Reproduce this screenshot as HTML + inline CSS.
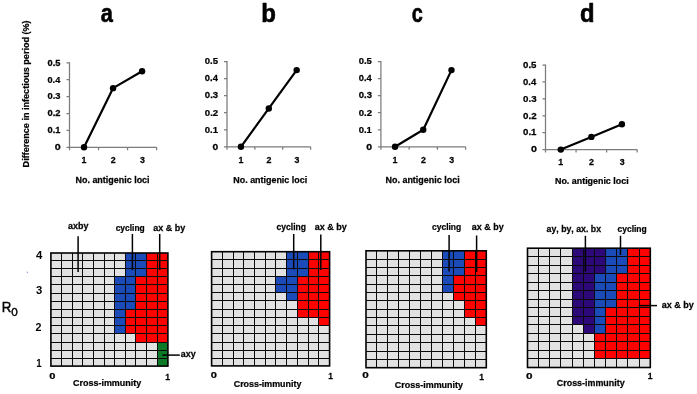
<!DOCTYPE html>
<html><head><meta charset="utf-8"><title>Figure</title>
<style>
html,body{margin:0;padding:0;background:#fff;}
body{width:697px;height:394px;overflow:hidden;}
svg{display:block;font-family:"Liberation Sans",sans-serif;font-kerning:none;}
</style></head><body>
<svg width="697" height="394" viewBox="0 0 697 394">
<rect width="697" height="394" fill="#fff"/>
<g opacity="0.999">
<text transform="translate(100.66 21.50) scale(0.7770 0.9226)" font-size="28" font-weight="700" fill="#000" stroke="#000" stroke-width="0.7" stroke-linejoin="round">a</text>
<text transform="translate(261.22 21.50) scale(0.8576 0.9168)" font-size="28" font-weight="700" fill="#000" stroke="#000" stroke-width="0.7" stroke-linejoin="round">b</text>
<text transform="translate(411.82 21.50) scale(0.7102 0.9027)" font-size="28" font-weight="700" fill="#000" stroke="#000" stroke-width="0.7" stroke-linejoin="round">c</text>
<text transform="translate(580.02 21.50) scale(0.8505 0.9168)" font-size="28" font-weight="700" fill="#000" stroke="#000" stroke-width="0.7" stroke-linejoin="round">d</text>
<path d="M69.50 62.30V150.30M66.50 147.30H156.60" stroke="#7c7c7c" stroke-width="1.25" fill="none"/>
<text transform="translate(54.78 150.10) scale(1.1656 1.0000)" font-size="9.2" font-weight="700" fill="#000" stroke="#000" stroke-width="0.25">0</text>
<text transform="translate(47.53 133.20) scale(1.0107 1.0000)" font-size="9.2" font-weight="700" fill="#000" stroke="#000" stroke-width="0.25">0.1</text>
<text transform="translate(47.53 116.30) scale(1.0202 1.0000)" font-size="9.2" font-weight="700" fill="#000" stroke="#000" stroke-width="0.25">0.2</text>
<text transform="translate(47.53 99.40) scale(1.0171 1.0000)" font-size="9.2" font-weight="700" fill="#000" stroke="#000" stroke-width="0.25">0.3</text>
<text transform="translate(47.54 82.50) scale(0.9939 1.0000)" font-size="9.2" font-weight="700" fill="#000" stroke="#000" stroke-width="0.25">0.4</text>
<text transform="translate(47.53 65.60) scale(1.0107 1.0000)" font-size="9.2" font-weight="700" fill="#000" stroke="#000" stroke-width="0.25">0.5</text>
<path d="M66.50 130.40H69.50M66.50 113.50H69.50M66.50 96.60H69.50M66.50 79.70H69.50M66.50 62.80H69.50M98.53 147.30V150.30M127.57 147.30V150.30M156.60 147.30V150.30" stroke="#7c7c7c" stroke-width="1.25" fill="none"/>
<polyline points="84.02,147.30 113.05,88.15 142.08,71.25" stroke="#000" stroke-width="2.2" fill="none" stroke-linejoin="round"/>
<circle cx="84.02" cy="147.30" r="3.2" fill="#000"/>
<circle cx="113.05" cy="88.15" r="3.2" fill="#000"/>
<circle cx="142.08" cy="71.25" r="3.2" fill="#000"/>
<text transform="translate(81.60 163.20) scale(0.9500 1.0000)" font-size="9.3" font-weight="700" fill="#000" stroke="#000" stroke-width="0.25">1</text>
<text transform="translate(110.82 163.20) scale(0.9500 1.0000)" font-size="9.3" font-weight="700" fill="#000" stroke="#000" stroke-width="0.25">2</text>
<text transform="translate(139.88 163.20) scale(0.9500 1.0000)" font-size="9.3" font-weight="700" fill="#000" stroke="#000" stroke-width="0.25">3</text>
<text transform="translate(75.50 183.20) scale(0.9949 1.0000)" font-size="9.0" font-weight="700" fill="#000" stroke="#000" stroke-width="0.25">No. antigenic loci</text>
<path d="M227.00 61.10V149.80M224.00 146.80H310.60" stroke="#7c7c7c" stroke-width="1.25" fill="none"/>
<text transform="translate(212.39 149.60) scale(1.1199 1.0000)" font-size="9.2" font-weight="700" fill="#000" stroke="#000" stroke-width="0.25">0</text>
<text transform="translate(204.82 132.56) scale(1.0354 1.0000)" font-size="9.2" font-weight="700" fill="#000" stroke="#000" stroke-width="0.25">0.1</text>
<text transform="translate(204.82 115.52) scale(1.0450 1.0000)" font-size="9.2" font-weight="700" fill="#000" stroke="#000" stroke-width="0.25">0.2</text>
<text transform="translate(204.82 98.48) scale(1.0419 1.0000)" font-size="9.2" font-weight="700" fill="#000" stroke="#000" stroke-width="0.25">0.3</text>
<text transform="translate(204.83 81.44) scale(1.0181 1.0000)" font-size="9.2" font-weight="700" fill="#000" stroke="#000" stroke-width="0.25">0.4</text>
<text transform="translate(204.82 64.40) scale(1.0354 1.0000)" font-size="9.2" font-weight="700" fill="#000" stroke="#000" stroke-width="0.25">0.5</text>
<path d="M224.00 129.76H227.00M224.00 112.72H227.00M224.00 95.68H227.00M224.00 78.64H227.00M224.00 61.60H227.00M254.87 146.80V149.80M282.73 146.80V149.80M310.60 146.80V149.80" stroke="#7c7c7c" stroke-width="1.25" fill="none"/>
<polyline points="240.93,146.80 268.80,108.46 296.67,70.12" stroke="#000" stroke-width="2.2" fill="none" stroke-linejoin="round"/>
<circle cx="240.93" cy="146.80" r="3.2" fill="#000"/>
<circle cx="268.80" cy="108.46" r="3.2" fill="#000"/>
<circle cx="296.67" cy="70.12" r="3.2" fill="#000"/>
<text transform="translate(238.52 163.20) scale(0.9500 1.0000)" font-size="9.3" font-weight="700" fill="#000" stroke="#000" stroke-width="0.25">1</text>
<text transform="translate(266.57 163.20) scale(0.9500 1.0000)" font-size="9.3" font-weight="700" fill="#000" stroke="#000" stroke-width="0.25">2</text>
<text transform="translate(294.47 163.20) scale(0.9500 1.0000)" font-size="9.3" font-weight="700" fill="#000" stroke="#000" stroke-width="0.25">3</text>
<text transform="translate(233.30 183.20) scale(0.9922 1.0000)" font-size="9.0" font-weight="700" fill="#000" stroke="#000" stroke-width="0.25">No. antigenic loci</text>
<path d="M380.90 61.10V149.80M377.90 146.80H465.60" stroke="#7c7c7c" stroke-width="1.25" fill="none"/>
<text transform="translate(366.18 149.60) scale(1.1428 1.0000)" font-size="9.2" font-weight="700" fill="#000" stroke="#000" stroke-width="0.25">0</text>
<text transform="translate(358.73 132.56) scale(1.0272 1.0000)" font-size="9.2" font-weight="700" fill="#000" stroke="#000" stroke-width="0.25">0.1</text>
<text transform="translate(358.72 115.52) scale(1.0367 1.0000)" font-size="9.2" font-weight="700" fill="#000" stroke="#000" stroke-width="0.25">0.2</text>
<text transform="translate(358.72 98.48) scale(1.0337 1.0000)" font-size="9.2" font-weight="700" fill="#000" stroke="#000" stroke-width="0.25">0.3</text>
<text transform="translate(358.73 81.44) scale(1.0100 1.0000)" font-size="9.2" font-weight="700" fill="#000" stroke="#000" stroke-width="0.25">0.4</text>
<text transform="translate(358.73 64.40) scale(1.0272 1.0000)" font-size="9.2" font-weight="700" fill="#000" stroke="#000" stroke-width="0.25">0.5</text>
<path d="M377.90 129.76H380.90M377.90 112.72H380.90M377.90 95.68H380.90M377.90 78.64H380.90M377.90 61.60H380.90M409.13 146.80V149.80M437.37 146.80V149.80M465.60 146.80V149.80" stroke="#7c7c7c" stroke-width="1.25" fill="none"/>
<polyline points="395.02,146.80 423.25,129.76 451.48,70.12" stroke="#000" stroke-width="2.2" fill="none" stroke-linejoin="round"/>
<circle cx="395.02" cy="146.80" r="3.2" fill="#000"/>
<circle cx="423.25" cy="129.76" r="3.2" fill="#000"/>
<circle cx="451.48" cy="70.12" r="3.2" fill="#000"/>
<text transform="translate(392.60 163.20) scale(0.9500 1.0000)" font-size="9.3" font-weight="700" fill="#000" stroke="#000" stroke-width="0.25">1</text>
<text transform="translate(421.02 163.20) scale(0.9500 1.0000)" font-size="9.3" font-weight="700" fill="#000" stroke="#000" stroke-width="0.25">2</text>
<text transform="translate(449.28 163.20) scale(0.9500 1.0000)" font-size="9.3" font-weight="700" fill="#000" stroke="#000" stroke-width="0.25">3</text>
<text transform="translate(385.50 183.20) scale(0.9963 1.0000)" font-size="9.0" font-weight="700" fill="#000" stroke="#000" stroke-width="0.25">No. antigenic loci</text>
<path d="M545.50 64.50V152.60M542.50 149.60H637.20" stroke="#7c7c7c" stroke-width="1.25" fill="none"/>
<text transform="translate(530.88 152.40) scale(1.1656 1.0000)" font-size="9.2" font-weight="700" fill="#000" stroke="#000" stroke-width="0.25">0</text>
<text transform="translate(523.02 135.48) scale(1.0518 1.0000)" font-size="9.2" font-weight="700" fill="#000" stroke="#000" stroke-width="0.25">0.1</text>
<text transform="translate(523.01 118.56) scale(1.0616 1.0000)" font-size="9.2" font-weight="700" fill="#000" stroke="#000" stroke-width="0.25">0.2</text>
<text transform="translate(523.01 101.64) scale(1.0585 1.0000)" font-size="9.2" font-weight="700" fill="#000" stroke="#000" stroke-width="0.25">0.3</text>
<text transform="translate(523.02 84.72) scale(1.0343 1.0000)" font-size="9.2" font-weight="700" fill="#000" stroke="#000" stroke-width="0.25">0.4</text>
<text transform="translate(523.02 67.80) scale(1.0518 1.0000)" font-size="9.2" font-weight="700" fill="#000" stroke="#000" stroke-width="0.25">0.5</text>
<path d="M542.50 132.68H545.50M542.50 115.76H545.50M542.50 98.84H545.50M542.50 81.92H545.50M542.50 65.00H545.50M576.07 149.60V152.60M606.63 149.60V152.60M637.20 149.60V152.60" stroke="#7c7c7c" stroke-width="1.25" fill="none"/>
<polyline points="560.78,149.60 591.35,136.91 621.92,124.22" stroke="#000" stroke-width="2.2" fill="none" stroke-linejoin="round"/>
<circle cx="560.78" cy="149.60" r="3.2" fill="#000"/>
<circle cx="591.35" cy="136.91" r="3.2" fill="#000"/>
<circle cx="621.92" cy="124.22" r="3.2" fill="#000"/>
<text transform="translate(558.37 165.30) scale(0.9500 1.0000)" font-size="9.3" font-weight="700" fill="#000" stroke="#000" stroke-width="0.25">1</text>
<text transform="translate(589.12 165.30) scale(0.9500 1.0000)" font-size="9.3" font-weight="700" fill="#000" stroke="#000" stroke-width="0.25">2</text>
<text transform="translate(619.72 165.30) scale(0.9500 1.0000)" font-size="9.3" font-weight="700" fill="#000" stroke="#000" stroke-width="0.25">3</text>
<text transform="translate(555.00 184.30) scale(0.9895 1.0000)" font-size="9.0" font-weight="700" fill="#000" stroke="#000" stroke-width="0.25">No. antigenic loci</text>
<text transform="translate(28.7 166.8) rotate(-90) translate(-0.61 0.00) scale(0.9249 1.0000)" font-size="9.8" font-weight="700" fill="#000" stroke="#000" stroke-width="0.25">Difference in infectious period (%)</text>
<rect x="50.90" y="253.00" width="117.00" height="113.10" fill="#e2e2e2"/>
<rect x="125.50" y="253.00" width="21.00" height="7.50" fill="#1b4bb8"/>
<rect x="146.50" y="253.00" width="21.40" height="7.50" fill="#fe0000"/>
<rect x="125.50" y="260.50" width="21.00" height="8.00" fill="#1b4bb8"/>
<rect x="146.50" y="260.50" width="21.40" height="8.00" fill="#fe0000"/>
<rect x="125.50" y="268.50" width="21.00" height="8.00" fill="#1b4bb8"/>
<rect x="146.50" y="268.50" width="21.40" height="8.00" fill="#fe0000"/>
<rect x="114.50" y="276.50" width="21.00" height="8.00" fill="#1b4bb8"/>
<rect x="135.50" y="276.50" width="32.40" height="8.00" fill="#fe0000"/>
<rect x="114.50" y="284.50" width="21.00" height="9.00" fill="#1b4bb8"/>
<rect x="135.50" y="284.50" width="32.40" height="9.00" fill="#fe0000"/>
<rect x="114.50" y="293.50" width="21.00" height="8.00" fill="#1b4bb8"/>
<rect x="135.50" y="293.50" width="32.40" height="8.00" fill="#fe0000"/>
<rect x="114.50" y="301.50" width="21.00" height="8.00" fill="#1b4bb8"/>
<rect x="135.50" y="301.50" width="32.40" height="8.00" fill="#fe0000"/>
<rect x="114.50" y="309.50" width="11.00" height="8.00" fill="#1b4bb8"/>
<rect x="125.50" y="309.50" width="42.40" height="8.00" fill="#fe0000"/>
<rect x="114.50" y="317.50" width="11.00" height="8.00" fill="#1b4bb8"/>
<rect x="125.50" y="317.50" width="42.40" height="8.00" fill="#fe0000"/>
<rect x="114.50" y="325.50" width="11.00" height="8.00" fill="#1b4bb8"/>
<rect x="125.50" y="325.50" width="42.40" height="8.00" fill="#fe0000"/>
<rect x="135.50" y="333.50" width="32.40" height="9.00" fill="#fe0000"/>
<rect x="157.50" y="342.50" width="10.40" height="8.00" fill="#0c7a27"/>
<rect x="157.50" y="350.50" width="10.40" height="8.00" fill="#0c7a27"/>
<rect x="157.50" y="358.50" width="10.40" height="7.60" fill="#0c7a27"/>
<path d="M61.5 253.00V366.10M72.5 253.00V366.10M82.5 253.00V366.10M93.5 253.00V366.10M104.5 253.00V366.10M114.5 253.00V366.10M125.5 253.00V366.10M135.5 253.00V366.10M146.5 253.00V366.10M157.5 253.00V366.10M50.90 260.5H167.90M50.90 268.5H167.90M50.90 276.5H167.90M50.90 284.5H167.90M50.90 293.5H167.90M50.90 301.5H167.90M50.90 309.5H167.90M50.90 317.5H167.90M50.90 325.5H167.90M50.90 333.5H167.90M50.90 342.5H167.90M50.90 350.5H167.90M50.90 358.5H167.90" stroke="#0a0a0a" stroke-width="1.0" fill="none"/>
<rect x="50.90" y="253.00" width="117.00" height="113.10" fill="none" stroke="#000" stroke-width="1.6"/>
<rect x="211.60" y="251.70" width="118.00" height="114.20" fill="#e2e2e2"/>
<rect x="286.50" y="251.70" width="22.00" height="7.80" fill="#1b4bb8"/>
<rect x="308.50" y="251.70" width="21.10" height="7.80" fill="#fe0000"/>
<rect x="286.50" y="259.50" width="22.00" height="9.00" fill="#1b4bb8"/>
<rect x="308.50" y="259.50" width="21.10" height="9.00" fill="#fe0000"/>
<rect x="286.50" y="268.50" width="22.00" height="8.00" fill="#1b4bb8"/>
<rect x="308.50" y="268.50" width="21.10" height="8.00" fill="#fe0000"/>
<rect x="275.50" y="276.50" width="22.00" height="8.00" fill="#1b4bb8"/>
<rect x="297.50" y="276.50" width="32.10" height="8.00" fill="#fe0000"/>
<rect x="275.50" y="284.50" width="22.00" height="8.00" fill="#1b4bb8"/>
<rect x="297.50" y="284.50" width="32.10" height="8.00" fill="#fe0000"/>
<rect x="286.50" y="292.50" width="11.00" height="8.00" fill="#1b4bb8"/>
<rect x="297.50" y="292.50" width="32.10" height="8.00" fill="#fe0000"/>
<rect x="297.50" y="300.50" width="32.10" height="9.00" fill="#fe0000"/>
<rect x="297.50" y="309.50" width="32.10" height="8.00" fill="#fe0000"/>
<rect x="318.50" y="317.50" width="11.10" height="8.00" fill="#fe0000"/>
<path d="M222.5 251.70V365.90M233.5 251.70V365.90M243.5 251.70V365.90M254.5 251.70V365.90M265.5 251.70V365.90M275.5 251.70V365.90M286.5 251.70V365.90M297.5 251.70V365.90M308.5 251.70V365.90M318.5 251.70V365.90M211.60 259.5H329.60M211.60 268.5H329.60M211.60 276.5H329.60M211.60 284.5H329.60M211.60 292.5H329.60M211.60 300.5H329.60M211.60 309.5H329.60M211.60 317.5H329.60M211.60 325.5H329.60M211.60 333.5H329.60M211.60 342.5H329.60M211.60 350.5H329.60M211.60 358.5H329.60" stroke="#0a0a0a" stroke-width="1.0" fill="none"/>
<rect x="211.60" y="251.70" width="118.00" height="114.20" fill="none" stroke="#000" stroke-width="1.6"/>
<rect x="366.00" y="250.80" width="120.30" height="116.90" fill="#e2e2e2"/>
<rect x="442.50" y="250.80" width="22.00" height="8.70" fill="#1b4bb8"/>
<rect x="464.50" y="250.80" width="21.80" height="8.70" fill="#fe0000"/>
<rect x="442.50" y="259.50" width="22.00" height="8.00" fill="#1b4bb8"/>
<rect x="464.50" y="259.50" width="21.80" height="8.00" fill="#fe0000"/>
<rect x="442.50" y="267.50" width="22.00" height="8.00" fill="#1b4bb8"/>
<rect x="464.50" y="267.50" width="21.80" height="8.00" fill="#fe0000"/>
<rect x="442.50" y="275.50" width="11.00" height="9.00" fill="#1b4bb8"/>
<rect x="453.50" y="275.50" width="32.80" height="9.00" fill="#fe0000"/>
<rect x="442.50" y="284.50" width="11.00" height="8.00" fill="#1b4bb8"/>
<rect x="453.50" y="284.50" width="32.80" height="8.00" fill="#fe0000"/>
<rect x="453.50" y="292.50" width="32.80" height="8.00" fill="#fe0000"/>
<rect x="464.50" y="300.50" width="21.80" height="9.00" fill="#fe0000"/>
<rect x="464.50" y="309.50" width="21.80" height="8.00" fill="#fe0000"/>
<rect x="475.50" y="317.50" width="10.80" height="8.00" fill="#fe0000"/>
<path d="M376.5 250.80V367.70M387.5 250.80V367.70M398.5 250.80V367.70M409.5 250.80V367.70M420.5 250.80V367.70M431.5 250.80V367.70M442.5 250.80V367.70M453.5 250.80V367.70M464.5 250.80V367.70M475.5 250.80V367.70M366.00 259.5H486.30M366.00 267.5H486.30M366.00 275.5H486.30M366.00 284.5H486.30M366.00 292.5H486.30M366.00 300.5H486.30M366.00 309.5H486.30M366.00 317.5H486.30M366.00 325.5H486.30M366.00 334.5H486.30M366.00 342.5H486.30M366.00 351.5H486.30M366.00 359.5H486.30" stroke="#0a0a0a" stroke-width="1.0" fill="none"/>
<rect x="366.00" y="250.80" width="120.30" height="116.90" fill="none" stroke="#000" stroke-width="1.6"/>
<rect x="527.50" y="248.20" width="122.80" height="119.30" fill="#e2e2e2"/>
<rect x="572.50" y="248.20" width="33.00" height="8.30" fill="#2d0878"/>
<rect x="605.50" y="248.20" width="22.00" height="8.30" fill="#1b4bb8"/>
<rect x="627.50" y="248.20" width="22.80" height="8.30" fill="#fe0000"/>
<rect x="572.50" y="256.50" width="33.00" height="9.00" fill="#2d0878"/>
<rect x="605.50" y="256.50" width="22.00" height="9.00" fill="#1b4bb8"/>
<rect x="627.50" y="256.50" width="22.80" height="9.00" fill="#fe0000"/>
<rect x="572.50" y="265.50" width="33.00" height="8.00" fill="#2d0878"/>
<rect x="605.50" y="265.50" width="22.00" height="8.00" fill="#1b4bb8"/>
<rect x="627.50" y="265.50" width="22.80" height="8.00" fill="#fe0000"/>
<rect x="572.50" y="273.50" width="22.00" height="9.00" fill="#2d0878"/>
<rect x="594.50" y="273.50" width="22.00" height="9.00" fill="#1b4bb8"/>
<rect x="616.50" y="273.50" width="33.80" height="9.00" fill="#fe0000"/>
<rect x="572.50" y="282.50" width="22.00" height="8.00" fill="#2d0878"/>
<rect x="594.50" y="282.50" width="22.00" height="8.00" fill="#1b4bb8"/>
<rect x="616.50" y="282.50" width="33.80" height="8.00" fill="#fe0000"/>
<rect x="572.50" y="290.50" width="22.00" height="9.00" fill="#2d0878"/>
<rect x="594.50" y="290.50" width="22.00" height="9.00" fill="#1b4bb8"/>
<rect x="616.50" y="290.50" width="33.80" height="9.00" fill="#fe0000"/>
<rect x="572.50" y="299.50" width="22.00" height="8.00" fill="#2d0878"/>
<rect x="594.50" y="299.50" width="22.00" height="8.00" fill="#1b4bb8"/>
<rect x="616.50" y="299.50" width="33.80" height="8.00" fill="#fe0000"/>
<rect x="572.50" y="307.50" width="22.00" height="9.00" fill="#2d0878"/>
<rect x="594.50" y="307.50" width="11.00" height="9.00" fill="#1b4bb8"/>
<rect x="605.50" y="307.50" width="44.80" height="9.00" fill="#fe0000"/>
<rect x="572.50" y="316.50" width="22.00" height="8.00" fill="#2d0878"/>
<rect x="594.50" y="316.50" width="11.00" height="8.00" fill="#1b4bb8"/>
<rect x="605.50" y="316.50" width="44.80" height="8.00" fill="#fe0000"/>
<rect x="583.50" y="324.50" width="11.00" height="9.00" fill="#2d0878"/>
<rect x="594.50" y="324.50" width="11.00" height="9.00" fill="#1b4bb8"/>
<rect x="605.50" y="324.50" width="44.80" height="9.00" fill="#fe0000"/>
<rect x="594.50" y="333.50" width="55.80" height="8.00" fill="#fe0000"/>
<rect x="594.50" y="341.50" width="55.80" height="9.00" fill="#fe0000"/>
<rect x="594.50" y="350.50" width="55.80" height="8.00" fill="#fe0000"/>
<path d="M538.5 248.20V367.50M549.5 248.20V367.50M560.5 248.20V367.50M572.5 248.20V367.50M583.5 248.20V367.50M594.5 248.20V367.50M605.5 248.20V367.50M616.5 248.20V367.50M627.5 248.20V367.50M639.5 248.20V367.50M527.50 256.5H650.30M527.50 265.5H650.30M527.50 273.5H650.30M527.50 282.5H650.30M527.50 290.5H650.30M527.50 299.5H650.30M527.50 307.5H650.30M527.50 316.5H650.30M527.50 324.5H650.30M527.50 333.5H650.30M527.50 341.5H650.30M527.50 350.5H650.30M527.50 358.5H650.30" stroke="#0a0a0a" stroke-width="1.0" fill="none"/>
<rect x="527.50" y="248.20" width="122.80" height="119.30" fill="none" stroke="#000" stroke-width="1.6"/>
<path d="M78.10 236.20V272.00" stroke="#000" stroke-width="1.5"/>
<path d="M132.40 234.00V270.00" stroke="#000" stroke-width="1.5"/>
<path d="M159.70 234.00V270.00" stroke="#000" stroke-width="1.5"/>
<path d="M162.40 355.10H179.80" stroke="#000" stroke-width="1.5"/>
<text transform="translate(68.04 229.00) scale(0.9426 1.0000)" font-size="9.5" font-weight="700" fill="#000" stroke="#000" stroke-width="0.25">axby</text>
<text transform="translate(115.67 230.60) scale(0.8888 1.0000)" font-size="9.5" font-weight="700" fill="#000" stroke="#000" stroke-width="0.25">cycling</text>
<text transform="translate(153.14 230.60) scale(0.9503 1.0000)" font-size="9.5" font-weight="700" fill="#000" stroke="#000" stroke-width="0.25">ax &amp; by</text>
<text transform="translate(180.84 356.50) scale(0.9407 1.0000)" font-size="9.5" font-weight="700" fill="#000" stroke="#000" stroke-width="0.25">axy</text>
<path d="M293.70 234.00V269.50" stroke="#000" stroke-width="1.5"/>
<path d="M320.80 234.50V270.00" stroke="#000" stroke-width="1.5"/>
<text transform="translate(276.57 229.70) scale(0.9014 1.0000)" font-size="9.5" font-weight="700" fill="#000" stroke="#000" stroke-width="0.25">cycling</text>
<text transform="translate(314.74 229.70) scale(0.9503 1.0000)" font-size="9.5" font-weight="700" fill="#000" stroke="#000" stroke-width="0.25">ax &amp; by</text>
<path d="M449.10 235.10V271.60" stroke="#000" stroke-width="1.5"/>
<path d="M476.60 235.50V272.00" stroke="#000" stroke-width="1.5"/>
<text transform="translate(431.97 230.00) scale(0.8951 1.0000)" font-size="9.5" font-weight="700" fill="#000" stroke="#000" stroke-width="0.25">cycling</text>
<text transform="translate(471.84 230.00) scale(0.9443 1.0000)" font-size="9.5" font-weight="700" fill="#000" stroke="#000" stroke-width="0.25">ax &amp; by</text>
<path d="M585.40 235.80V271.60" stroke="#000" stroke-width="1.5"/>
<path d="M620.50 235.80V255.00" stroke="#000" stroke-width="1.5"/>
<path d="M638.60 305.60H657.00" stroke="#000" stroke-width="1.5"/>
<text transform="translate(546.54 231.50) scale(0.9218 1.0000)" font-size="9.5" font-weight="700" fill="#000" stroke="#000" stroke-width="0.25">ay, by, ax. bx</text>
<text transform="translate(617.47 231.50) scale(0.8951 1.0000)" font-size="9.5" font-weight="700" fill="#000" stroke="#000" stroke-width="0.25">cycling</text>
<text transform="translate(661.74 308.30) scale(0.9503 1.0000)" font-size="9.5" font-weight="700" fill="#000" stroke="#000" stroke-width="0.25">ax &amp; by</text>
<text transform="translate(36.03 259.00) scale(1.1056 1.0000)" font-size="10.3" font-weight="700" fill="#000">4</text>
<text transform="translate(35.94 294.20) scale(1.0938 1.0000)" font-size="10.3" font-weight="700" fill="#000">3</text>
<text transform="translate(35.58 330.80) scale(1.0385 1.0000)" font-size="10.3" font-weight="700" fill="#000">2</text>
<text transform="translate(36.29 366.70) scale(0.9389 1.0000)" font-size="10.3" font-weight="700" fill="#000">1</text>
<text transform="translate(1.81 312.40) scale(0.8870 1.0368)" font-size="15" font-weight="400" fill="#000" stroke="#000" stroke-width="0.45">R</text>
<text transform="translate(11.24 316.30) scale(1.1052 1.0133)" font-size="10.6" font-weight="400" fill="#000" stroke="#000" stroke-width="0.4">0</text>
<text transform="translate(49.16 378.80) scale(1.1372 1.0000)" font-size="9.8" font-weight="700" fill="#000" stroke="#000" stroke-width="0.25">0</text>
<text transform="translate(165.26 379.60) scale(0.8771 1.0000)" font-size="9.8" font-weight="700" fill="#000" stroke="#000" stroke-width="0.25">1</text>
<text transform="translate(73.03 385.90) scale(0.9740 1.0000)" font-size="9.2" font-weight="700" fill="#000" stroke="#000" stroke-width="0.25">Cross-immunity</text>
<text transform="translate(210.66 378.40) scale(1.1372 1.0000)" font-size="9.8" font-weight="700" fill="#000" stroke="#000" stroke-width="0.25">0</text>
<text transform="translate(328.37 378.70) scale(0.8552 1.0000)" font-size="9.8" font-weight="700" fill="#000" stroke="#000" stroke-width="0.25">1</text>
<text transform="translate(233.74 386.90) scale(0.9669 1.0000)" font-size="9.2" font-weight="700" fill="#000" stroke="#000" stroke-width="0.25">Cross-immunity</text>
<text transform="translate(362.23 378.40) scale(1.2015 1.0000)" font-size="9.8" font-weight="700" fill="#000" stroke="#000" stroke-width="0.25">0</text>
<text transform="translate(479.16 379.60) scale(0.8771 1.0000)" font-size="9.8" font-weight="700" fill="#000" stroke="#000" stroke-width="0.25">1</text>
<text transform="translate(394.83 388.10) scale(0.9740 1.0000)" font-size="9.2" font-weight="700" fill="#000" stroke="#000" stroke-width="0.25">Cross-immunity</text>
<text transform="translate(526.03 378.70) scale(1.2015 1.0000)" font-size="9.8" font-weight="700" fill="#000" stroke="#000" stroke-width="0.25">0</text>
<text transform="translate(647.66 379.30) scale(0.8771 1.0000)" font-size="9.8" font-weight="700" fill="#000" stroke="#000" stroke-width="0.25">1</text>
<text transform="translate(556.83 386.40) scale(0.9697 1.0000)" font-size="9.2" font-weight="700" fill="#000" stroke="#000" stroke-width="0.25">Cross-immunity</text>
<rect x="26.8" y="271.6" width="0.9" height="1.4" fill="#6a86d8"/>
</g>
</svg>
</body></html>
